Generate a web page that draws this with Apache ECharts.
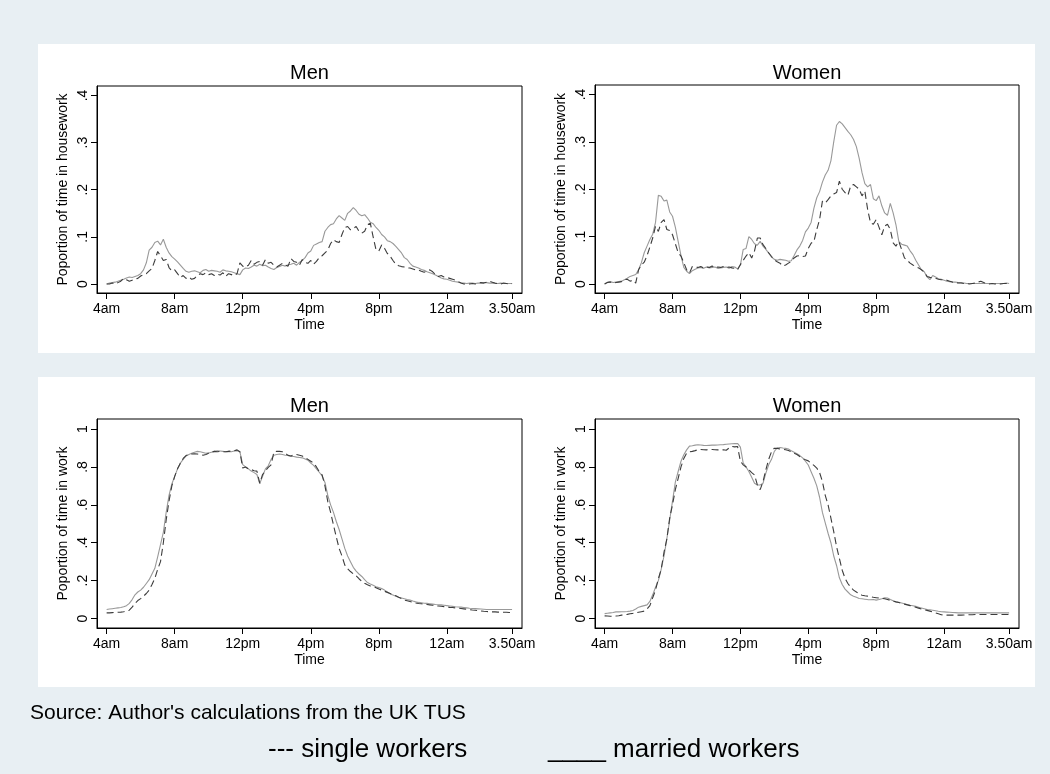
<!DOCTYPE html>
<html>
<head>
<meta charset="utf-8">
<script src="https://cdn.jsdelivr.net/npm/echarts@6/dist/echarts.min.js"></script>
<style>
html,body{margin:0;padding:0;background:#e8eff3;}
#chart{width:1050px;height:774px;}
</style>
</head>
<body>
<div id="chart"></div>
<script>
// 10-minute time slots, minutes after 4am (4:00am ... 3:50am)
const slots = Array.from({length: 144}, (_, i) => i * 10);

const xTickValues = [0, 240, 480, 720, 960, 1200, 1430];
const xTickLabels = ['4am', '8am', '12pm', '4pm', '8pm', '12am', '3.50am'];
const yTopTicks = [0, 0.1, 0.2, 0.3, 0.4];
const yTopLabels = ['0', '.1', '.2', '.3', '.4'];
const yBotTicks = [0, 0.2, 0.4, 0.6, 0.8, 1];
const yBotLabels = ['0', '.2', '.4', '.6', '.8', '1'];

const panelTitles = ['Men', 'Women', 'Men', 'Women'];
const yTitles = ['Poportion of time in housework', 'Poportion of time in housework',
                 'Poportion of time in work', 'Poportion of time in work'];
const xTitle = 'Time';
const sourceNote = "Source: Author's calculations from the UK TUS";
const legendSingle = '--- single workers';
const legendMarried = '____ married workers';

// Men, housework, married (solid)
const menHouseMarried = [
 0.000,0.002,0.003,0.004,0.006,0.008, 0.010,0.013,0.015,0.014,0.016,0.018,
 0.022,0.030,0.045,0.072,0.078,0.088, 0.091,0.083,0.095,0.078,0.066,0.058,
 0.053,0.047,0.040,0.033,0.027,0.025, 0.027,0.028,0.026,0.024,0.029,0.031,
 0.027,0.029,0.028,0.027,0.025,0.030, 0.028,0.027,0.026,0.024,0.022,0.020,
 0.030,0.034,0.033,0.036,0.040,0.038, 0.042,0.039,0.040,0.036,0.033,0.031,
 0.035,0.037,0.040,0.038,0.041,0.042, 0.044,0.040,0.046,0.050,0.056,0.066,
 0.070,0.082,0.085,0.088,0.090,0.112, 0.120,0.126,0.128,0.138,0.145,0.140,
 0.135,0.150,0.155,0.162,0.156,0.148, 0.145,0.147,0.140,0.131,0.128,0.120,
 0.114,0.105,0.100,0.092,0.090,0.086, 0.080,0.073,0.066,0.056,0.052,0.044,
 0.038,0.036,0.034,0.031,0.029,0.026, 0.024,0.022,0.019,0.016,0.013,0.011,
 0.010,0.008,0.006,0.005,0.004,0.002, 0.002,0.001,0.002,0.002,0.001,0.002,
 0.002,0.003,0.003,0.002,0.002,0.001, 0.001,0.002,0.001,0.001,0.001,0.001
];
// Men, housework, single (dashed)
const menHouseSingle = [
 0.000,0.000,0.002,0.000,0.003,0.006, 0.012,0.009,0.006,0.008,0.010,0.012,
 0.017,0.020,0.022,0.028,0.033,0.050, 0.069,0.060,0.050,0.052,0.035,0.028,
 0.030,0.022,0.014,0.018,0.012,0.015, 0.010,0.012,0.018,0.022,0.020,0.024,
 0.020,0.022,0.018,0.021,0.019,0.024, 0.016,0.022,0.020,0.018,0.022,0.045,
 0.038,0.036,0.040,0.050,0.042,0.046, 0.048,0.040,0.052,0.044,0.046,0.040,
 0.036,0.040,0.044,0.040,0.038,0.054, 0.048,0.046,0.040,0.052,0.046,0.044,
 0.050,0.042,0.048,0.056,0.060,0.066, 0.072,0.086,0.094,0.090,0.088,0.105,
 0.120,0.122,0.115,0.118,0.122,0.112, 0.108,0.112,0.126,0.129,0.100,0.073,
 0.070,0.083,0.076,0.065,0.059,0.050, 0.042,0.039,0.037,0.036,0.034,0.034,
 0.032,0.030,0.030,0.027,0.025,0.028, 0.030,0.026,0.020,0.016,0.018,0.015,
 0.014,0.012,0.010,0.008,0.005,0.002, 0.000,0.000,0.000,0.001,0.000,0.002,
 0.003,0.002,0.004,0.006,0.004,0.002, 0.001,0.000,0.002,0.001,0.000,0.001
];
// Women, housework, married (solid)
const womenHouseMarried = [
 0.000,0.004,0.005,0.003,0.004,0.005, 0.006,0.009,0.012,0.016,0.018,0.020,
 0.030,0.045,0.066,0.080,0.094,0.105, 0.130,0.187,0.185,0.175,0.177,0.152,
 0.143,0.120,0.090,0.060,0.035,0.027, 0.022,0.028,0.031,0.034,0.035,0.033,
 0.036,0.034,0.035,0.036,0.033,0.034, 0.035,0.036,0.033,0.037,0.036,0.032,
 0.040,0.073,0.075,0.100,0.094,0.085, 0.082,0.090,0.080,0.073,0.065,0.057,
 0.052,0.050,0.052,0.051,0.050,0.048, 0.049,0.060,0.072,0.080,0.092,0.110,
 0.118,0.130,0.160,0.182,0.195,0.215, 0.230,0.240,0.260,0.300,0.335,0.343,
 0.338,0.330,0.322,0.315,0.305,0.290, 0.265,0.235,0.212,0.205,0.210,0.180,
 0.176,0.186,0.165,0.150,0.145,0.170, 0.150,0.125,0.090,0.084,0.082,0.080,
 0.070,0.062,0.050,0.040,0.030,0.026, 0.015,0.009,0.018,0.015,0.011,0.010,
 0.008,0.006,0.005,0.004,0.004,0.003, 0.003,0.002,0.001,0.001,0.001,0.001,
 0.001,0.001,0.001,0.001,0.001,0.001, 0.001,0.001,0.001,0.001,0.002,0.001
];
// Women, housework, single (dashed)
const womenHouseSingle = [
 0.000,0.003,0.004,0.002,0.003,0.004, 0.005,0.009,0.010,0.006,0.008,0.002,
 0.030,0.040,0.046,0.060,0.078,0.097, 0.122,0.111,0.130,0.136,0.115,0.113,
 0.104,0.085,0.066,0.059,0.045,0.030, 0.023,0.037,0.036,0.035,0.037,0.034,
 0.036,0.035,0.038,0.034,0.036,0.035, 0.037,0.035,0.036,0.034,0.033,0.030,
 0.041,0.050,0.059,0.066,0.055,0.070, 0.097,0.097,0.083,0.075,0.066,0.058,
 0.051,0.047,0.044,0.038,0.040,0.044, 0.048,0.055,0.059,0.060,0.058,0.059,
 0.075,0.086,0.090,0.115,0.136,0.175, 0.171,0.178,0.186,0.190,0.193,0.217,
 0.200,0.193,0.187,0.207,0.210,0.205, 0.200,0.186,0.196,0.157,0.129,0.126,
 0.136,0.120,0.104,0.122,0.126,0.115, 0.087,0.080,0.090,0.073,0.055,0.050,
 0.044,0.040,0.037,0.034,0.030,0.025, 0.016,0.014,0.013,0.012,0.010,0.009,
 0.009,0.008,0.006,0.004,0.003,0.002, 0.002,0.001,0.001,0.000,0.001,0.002,
 0.004,0.006,0.003,0.001,0.000,0.001, 0.000,0.001,0.000,0.001,0.001,0.001
];
// Men, work, married (solid)
const menWorkMarried = [
 0.048,0.050,0.052,0.054,0.056,0.058, 0.062,0.068,0.080,0.100,0.125,0.140,
 0.150,0.165,0.185,0.205,0.235,0.265, 0.325,0.390,0.455,0.560,0.650,0.710,
 0.750,0.790,0.820,0.840,0.858,0.866, 0.872,0.878,0.882,0.880,0.876,0.872,
 0.874,0.878,0.882,0.885,0.884,0.882, 0.880,0.882,0.880,0.884,0.886,0.880,
 0.812,0.800,0.790,0.778,0.770,0.760, 0.712,0.750,0.790,0.806,0.840,0.862,
 0.866,0.868,0.866,0.862,0.860,0.856, 0.855,0.852,0.850,0.848,0.842,0.836,
 0.820,0.808,0.790,0.772,0.752,0.718, 0.650,0.600,0.560,0.512,0.470,0.420,
 0.370,0.330,0.300,0.270,0.250,0.235, 0.222,0.205,0.190,0.182,0.175,0.168,
 0.163,0.158,0.150,0.140,0.130,0.124, 0.118,0.112,0.108,0.104,0.100,0.097,
 0.092,0.088,0.085,0.083,0.081,0.080, 0.078,0.076,0.074,0.073,0.072,0.070,
 0.068,0.066,0.064,0.062,0.061,0.060, 0.058,0.056,0.054,0.053,0.052,0.051,
 0.050,0.049,0.048,0.048,0.048,0.048, 0.048,0.048,0.048,0.048,0.048,0.048
];
// Men, work, single (dashed)
const menWorkSingle = [
 0.030,0.030,0.031,0.032,0.033,0.034, 0.036,0.040,0.044,0.060,0.080,0.095,
 0.105,0.118,0.132,0.150,0.180,0.212, 0.260,0.300,0.400,0.520,0.620,0.700,
 0.750,0.790,0.820,0.845,0.860,0.866, 0.868,0.870,0.868,0.864,0.862,0.866,
 0.872,0.878,0.882,0.880,0.882,0.880, 0.880,0.882,0.884,0.885,0.890,0.880,
 0.794,0.800,0.790,0.786,0.780,0.778, 0.714,0.760,0.780,0.798,0.811,0.880,
 0.882,0.882,0.880,0.872,0.861,0.858, 0.864,0.866,0.862,0.858,0.850,0.840,
 0.830,0.820,0.800,0.775,0.758,0.700, 0.617,0.560,0.494,0.430,0.370,0.330,
 0.282,0.262,0.248,0.236,0.225,0.210, 0.196,0.186,0.178,0.172,0.168,0.163,
 0.156,0.150,0.144,0.138,0.132,0.126, 0.120,0.112,0.105,0.097,0.094,0.090,
 0.086,0.082,0.079,0.078,0.076,0.074, 0.072,0.070,0.067,0.066,0.065,0.063,
 0.061,0.059,0.058,0.056,0.055,0.053, 0.051,0.049,0.047,0.045,0.044,0.042,
 0.040,0.038,0.037,0.036,0.035,0.035, 0.034,0.034,0.033,0.033,0.032,0.032
];
// Women, work, married (solid)
const womenWorkMarried = [
 0.026,0.028,0.030,0.032,0.035,0.035, 0.036,0.036,0.037,0.039,0.042,0.050,
 0.060,0.064,0.068,0.072,0.090,0.125, 0.165,0.200,0.260,0.330,0.420,0.520,
 0.620,0.720,0.776,0.830,0.864,0.890, 0.910,0.912,0.915,0.917,0.916,0.914,
 0.913,0.914,0.915,0.915,0.916,0.917, 0.918,0.920,0.921,0.922,0.923,0.924,
 0.905,0.820,0.800,0.776,0.745,0.714, 0.705,0.705,0.714,0.767,0.811,0.840,
 0.882,0.900,0.903,0.900,0.898,0.895, 0.885,0.878,0.870,0.860,0.848,0.830,
 0.810,0.775,0.740,0.700,0.640,0.560, 0.505,0.450,0.400,0.330,0.280,0.215,
 0.180,0.155,0.140,0.125,0.118,0.112, 0.106,0.104,0.102,0.100,0.099,0.100,
 0.097,0.100,0.104,0.109,0.108,0.100, 0.094,0.088,0.086,0.082,0.078,0.074,
 0.070,0.067,0.064,0.060,0.056,0.052, 0.048,0.046,0.044,0.041,0.038,0.036,
 0.035,0.034,0.033,0.032,0.031,0.030, 0.030,0.030,0.030,0.030,0.030,0.030,
 0.030,0.030,0.030,0.030,0.030,0.030, 0.030,0.030,0.030,0.030,0.030,0.030
];
// Women, work, single (dashed)
const womenWorkSingle = [
 0.014,0.013,0.012,0.012,0.013,0.015, 0.018,0.020,0.022,0.025,0.027,0.030,
 0.033,0.036,0.039,0.050,0.068,0.110, 0.150,0.210,0.260,0.350,0.420,0.530,
 0.600,0.680,0.740,0.800,0.845,0.873, 0.880,0.882,0.886,0.891,0.892,0.891,
 0.890,0.891,0.892,0.891,0.890,0.888, 0.891,0.888,0.900,0.908,0.906,0.908,
 0.830,0.811,0.800,0.785,0.770,0.758, 0.705,0.680,0.723,0.785,0.840,0.880,
 0.899,0.898,0.895,0.893,0.891,0.887, 0.880,0.872,0.866,0.855,0.845,0.838,
 0.832,0.820,0.808,0.794,0.770,0.723, 0.650,0.600,0.530,0.459,0.380,0.317,
 0.255,0.212,0.185,0.165,0.150,0.140, 0.130,0.123,0.120,0.118,0.115,0.112,
 0.110,0.108,0.106,0.104,0.100,0.096, 0.092,0.088,0.085,0.080,0.076,0.072,
 0.068,0.064,0.060,0.055,0.050,0.046, 0.043,0.039,0.034,0.030,0.025,0.020,
 0.018,0.018,0.018,0.018,0.018,0.018, 0.018,0.019,0.019,0.020,0.020,0.021,
 0.021,0.021,0.021,0.021,0.021,0.021, 0.021,0.021,0.021,0.021,0.021,0.021
];

const FONT = "'Liberation Sans', Arial, Helvetica, sans-serif";
const pairs = vals => slots.map((t, i) => [t, vals[i]]);

const grids = [
  {left: 97, top: 86, width: 425, height: 207},
  {left: 595, top: 85, width: 424, height: 208},
  {left: 97, top: 419, width: 425, height: 209},
  {left: 595, top: 419, width: 424, height: 209}
];
const yRanges = [[-0.019, 0.42], [-0.019, 0.42], [-0.05, 1.053], [-0.05, 1.053]];
const yTicksFor = [yTopTicks, yTopTicks, yBotTicks, yBotTicks];
const yLabelsFor = [yTopLabels, yTopLabels, yBotLabels, yBotLabels];

function lookup(ticks, labels, v) {
  for (let i = 0; i < ticks.length; i++) if (Math.abs(ticks[i] - v) < 1e-6) return labels[i];
  return '';
}

const option = {
  backgroundColor: '#e8eff3',
  animation: false,
  textStyle: {fontFamily: FONT},
  grid: grids.map(g => Object.assign({
    show: true, backgroundColor: '#ffffff', borderColor: '#000000', borderWidth: 1, containLabel: false
  }, g)),
  xAxis: grids.map((g, k) => ({
    type: 'value', gridIndex: k, min: -34, max: 1465,
    name: xTitle, nameLocation: 'middle', nameGap: 25,
    nameTextStyle: {fontSize: 14, color: '#000', fontFamily: FONT},
    axisLine: {show: true, onZero: false, lineStyle: {color: '#000', width: 1}},
    axisTick: {show: true, inside: false, length: 6, customValues: xTickValues, lineStyle: {color: '#000'}},
    axisLabel: {show: true, margin: 9, fontSize: 14, color: '#000', fontFamily: FONT,
      customValues: xTickValues, formatter: v => lookup(xTickValues, xTickLabels, v)},
    splitLine: {show: false}
  })),
  yAxis: grids.map((g, k) => ({
    type: 'value', gridIndex: k, min: yRanges[k][0], max: yRanges[k][1],
    name: yTitles[k], nameLocation: 'middle', nameGap: 27,
    nameTextStyle: {fontSize: 14, color: '#000', fontFamily: FONT},
    axisLine: {show: true, onZero: false, lineStyle: {color: '#000', width: 1}},
    axisTick: {show: true, inside: false, length: 6, customValues: yTicksFor[k], lineStyle: {color: '#000'}},
    axisLabel: {show: true, rotate: 90, margin: 7, fontSize: 14, color: '#000', fontFamily: FONT,
      customValues: yTicksFor[k], formatter: v => lookup(yTicksFor[k], yLabelsFor[k], v)},
    splitLine: {show: false}
  })),
  series: [],
  graphic: [
    {type: 'rect', z: -10, shape: {x: 38, y: 44, width: 997, height: 309}, style: {fill: '#ffffff'}},
    {type: 'rect', z: -10, shape: {x: 38, y: 377, width: 997, height: 310}, style: {fill: '#ffffff'}}
  ]
};

const panelData = [
  [menHouseMarried, menHouseSingle],
  [womenHouseMarried, womenHouseSingle],
  [menWorkMarried, menWorkSingle],
  [womenWorkMarried, womenWorkSingle]
];
panelData.forEach((pd, k) => {
  option.series.push({
    type: 'line', xAxisIndex: k, yAxisIndex: k, data: pairs(pd[0]), showSymbol: false, symbol: 'none',
    lineStyle: {color: '#999999', width: 1.1, type: 'solid'}, z: 2
  });
  option.series.push({
    type: 'line', xAxisIndex: k, yAxisIndex: k, data: pairs(pd[1]), showSymbol: false, symbol: 'none',
    lineStyle: {color: '#3c3c3c', width: 1.1, type: [7, 4]}, z: 3
  });
});

// panel titles
const titleY = [73, 73, 406.5, 406.5];
grids.forEach((g, k) => {
  option.graphic.push({
    type: 'text', z: 100, x: g.left + g.width / 2, y: titleY[k],
    style: {text: panelTitles[k], font: '20px ' + FONT, fill: '#000',
      align: 'center', verticalAlign: 'middle', textAlign: 'center', textVerticalAlign: 'middle'}
  });
});
option.graphic.push({
  type: 'text', z: 100, x: 30, y: 713.5,
  style: {text: sourceNote, font: '21px ' + FONT, fill: '#000',
    align: 'left', verticalAlign: 'middle', textAlign: 'left', textVerticalAlign: 'middle'}
});
option.graphic.push({
  type: 'text', z: 100, x: 268, y: 750,
  style: {text: legendSingle, font: '26px ' + FONT, fill: '#000',
    align: 'left', verticalAlign: 'middle', textAlign: 'left', textVerticalAlign: 'middle'}
});
option.graphic.push({
  type: 'text', z: 100, x: 548, y: 750,
  style: {text: legendMarried, font: '26px ' + FONT, fill: '#000',
    align: 'left', verticalAlign: 'middle', textAlign: 'left', textVerticalAlign: 'middle'}
});

const chart = echarts.init(document.getElementById('chart'), null, {renderer: 'canvas'});
chart.setOption(option);
</script>
</body>
</html>
